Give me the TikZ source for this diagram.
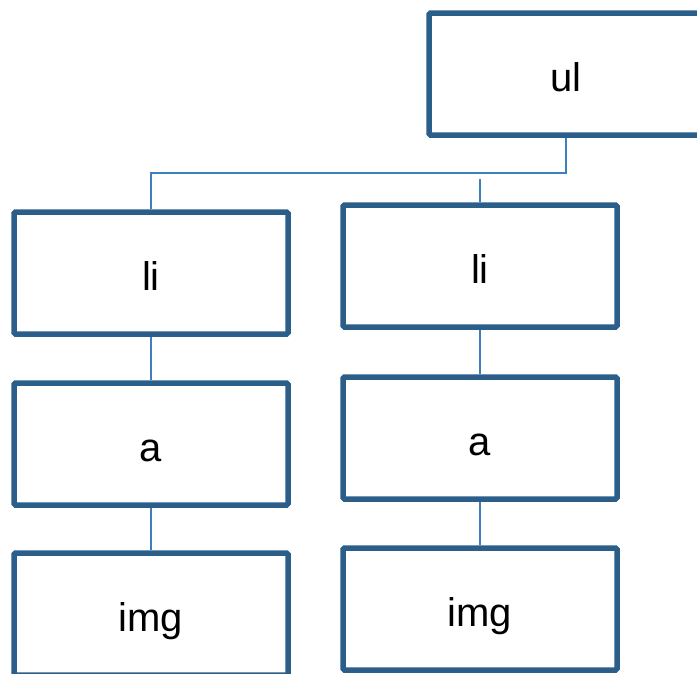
\documentclass[tikz,border=0pt]{standalone}
\usepackage{fontspec}
\setmainfont{Liberation Sans}
\definecolor{boxblue}{HTML}{2B5F8A}
\definecolor{linkblue}{HTML}{3C80C2}
\begin{document}
\begin{tikzpicture}[x=1pt,y=-1pt,
  elem/.style={draw=boxblue,line width=5.5pt,rounded corners=1.5pt,fill=white,
    minimum width=274pt,minimum height=122pt,inner sep=0pt,
    text height=34pt,text depth=0pt,
    font=\fontsize{40}{40}\selectfont},
  link/.style={draw=linkblue,line width=1.8pt}]
\useasboundingbox (0,0) rectangle (697,673);
\begin{scope}
\clip (0,0) rectangle (697,673);
\node[elem] (ul) at (566,74) {ul};
\node[elem] (li1) at (151,273) {li};
\node[elem] (a1) at (151,444) {a};
\node[elem] (img1) at (151,614) {img};
\node[elem] (li2) at (480,266) {li};
\node[elem] (a2) at (480,438) {a};
\node[elem] (img2) at (480,609) {img};
\coordinate (j) at (566,173);
\coordinate (k) at (480,179);
\draw[link] (ul.south) -- (j) -- (j -| li1.north) -- (li1.north);
\draw[link] (k) -- (li2.north);
\draw[link] (li1.south) -- (a1.north);
\draw[link] (a1.south) -- (img1.north);
\draw[link] (li2.south) -- (a2.north);
\draw[link] (a2.south) -- (img2.north);
\end{scope}
\end{tikzpicture}
\end{document}
